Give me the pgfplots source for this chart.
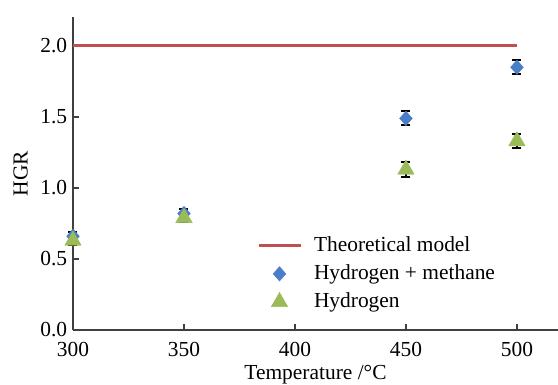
\documentclass[border=0pt]{standalone}
\usepackage{pgfplots}
\pgfplotsset{compat=1.18}
\usepackage{fontspec}
\setmainfont{Liberation Serif}
\definecolor{modelred}{RGB}{192,80,77}
\definecolor{hmblue}{RGB}{74,126,200}
\definecolor{hgreen}{RGB}{155,187,89}
\pgfplotsset{
  marklegend/.style={legend image code/.code={
    \draw[mark repeat=2, mark phase=2, ##1] plot coordinates {(0bp,0bp) (21bp,0bp) (42bp,0bp)};
    \path (52bp,0bp);}},
}
\begin{document}
\fontsize{21.5}{25}\selectfont
\begin{tikzpicture}
% page frame around the axis box (axis south west sits at the origin)
\path[use as bounding box] (-73bp,-55bp) rectangle (485bp,330bp);
\begin{axis}[
  scale only axis,
  width=485bp, height=313bp,
  xmin=300, xmax=518.5,
  ymin=0, ymax=2.204,
  axis lines=left,
  axis line style={line width=1.3bp, draw=black!75, -},
  xtick={300,350,400,450,500},
  ytick={0,0.5,1.0,1.5,2.0},
  tick align=inside,
  major tick length=6bp,
  tick style={line width=1.3bp, draw=black!75},
  y tick label style={xshift=1.5bp, /pgf/number format/.cd, fixed, fixed zerofill, precision=1},
  /pgf/number format/assume math mode=true,
  ticklabel style={font=\fontsize{21.5}{25}\selectfont},
  xticklabel style={yshift=-5bp},
  xlabel={Temperature /\textdegree C},
  ylabel={HGR},
  label style={font=\fontsize{21.5}{25}\selectfont},
  xlabel style={yshift=6bp},
  ylabel style={yshift=-2bp},
  legend style={draw=none, fill=none, at={(0.379,0.305)}, anchor=north west,
    font=\fontsize{21.5}{25}\selectfont, row sep=6bp, inner sep=0pt,
    cells={anchor=west}},
  legend cell align=left,
  clip=false,
]
% theoretical upper limit
\addplot[modelred, line width=3bp, legend image code/.code={
  \draw[modelred, line width=3bp] (0bp,0bp) -- (42bp,0bp);
  \path (52bp,0bp);}]
  coordinates {(300,2.0) (500,2.0)};
\addlegendentry{Theoretical model}

% hydrogen + methane
\addplot[only marks, mark=diamond*, mark size=8.5bp, marklegend,
  mark options={fill=hmblue, draw=hmblue, yscale=0.85},
  error bars/.cd, y dir=both, y explicit,
  error bar style={black, line width=1.4bp},
  error mark options={black, rotate=90, mark size=4.5bp, line width=2bp}]
  coordinates {
    (300,0.66) +- (0,0.03)
    (350,0.82) +- (0,0.03)
    (450,1.49) +- (0,0.05)
    (500,1.85) +- (0,0.05)
  };
\addlegendentry{Hydrogen + methane}

% hydrogen only
\addplot[only marks, mark=triangle*, mark size=9.5bp, marklegend,
  mark options={fill=hgreen, draw=hgreen},
  error bars/.cd, y dir=both, y explicit,
  error bar style={black, line width=1.4bp},
  error mark options={black, rotate=90, mark size=4.5bp, line width=2bp}]
  coordinates {
    (300,0.63) +- (0,0.03)
    (350,0.79) +- (0,0.03)
    (450,1.13) +- (0,0.05)
    (500,1.33) +- (0,0.05)
  };
\addlegendentry{Hydrogen}
\end{axis}
\end{tikzpicture}
\end{document}
